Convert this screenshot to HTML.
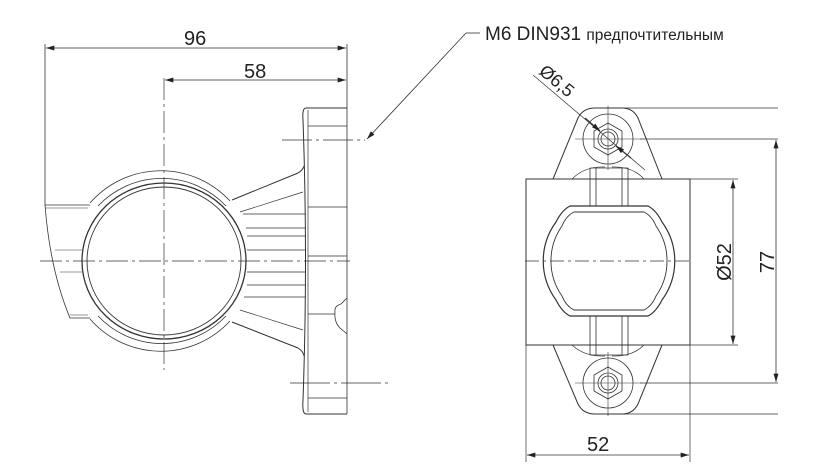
<!DOCTYPE html>
<html><head><meta charset="utf-8"><style>
html,body{margin:0;padding:0;background:#fff;}
svg{display:block;}
text{font-family:"Liberation Sans","DejaVu Sans",sans-serif;fill:#222;}
</style></head><body>
<svg width="821" height="472" viewBox="0 0 821 472" xmlns="http://www.w3.org/2000/svg">
<defs>
<marker id="a" viewBox="0 0 10 6" refX="10" refY="3" markerWidth="14" markerHeight="5" orient="auto-start-reverse" markerUnits="userSpaceOnUse"><path d="M0,0L10,3L0,6z" fill="#222"/></marker>
</defs>
<g stroke="#333" fill="none" stroke-width="1">
<line x1="45" y1="44" x2="45" y2="205" stroke-width="0.8"/>
<line x1="347" y1="44" x2="347" y2="414" stroke-width="0.8"/>
<line x1="46" y1="48" x2="346" y2="48" marker-start="url(#a)" marker-end="url(#a)" stroke-width="0.8"/>
<line x1="165" y1="80" x2="346" y2="80" marker-start="url(#a)" marker-end="url(#a)" stroke-width="0.8"/>
<line x1="164" y1="78" x2="164" y2="370" stroke-dasharray="22,4,3,4" stroke-width="0.7"/>
<line x1="40" y1="261" x2="350" y2="261" stroke-dasharray="22,4,3,4" stroke-width="0.7"/>
<line x1="282" y1="140" x2="365" y2="140" stroke-dasharray="30,4,3,4" stroke-width="0.7"/>
<line x1="290" y1="383" x2="390" y2="383" stroke-dasharray="40,4,3,4" stroke-width="0.7"/>
<path d="M347,108 L306,108 Q302,108 303,120 Q308,260 303,400 Q302,414 306,414 L347,414"/>
<line x1="308" y1="110" x2="308" y2="412" stroke-width="0.7"/>
<line x1="308" y1="126" x2="347" y2="126" stroke-width="0.7"/>
<line x1="308" y1="207" x2="347" y2="207" stroke-width="0.7"/>
<line x1="308" y1="256" x2="347" y2="256" stroke-width="0.7"/>
<line x1="308" y1="314" x2="335" y2="314" stroke-width="0.7"/>
<line x1="308" y1="398" x2="347" y2="398" stroke-width="0.7"/>
<path d="M347,298 L341,304 Q334,306 335,312 Q334,322 340,328 L347,334" stroke-width="0.8"/>
<path d="M232,200 L298,173 Q303,170 304,166" />
<path d="M232,322 L298,348 Q303,351 304,356" />
<line x1="240" y1="212" x2="303" y2="192" stroke-width="0.7"/>
<line x1="240" y1="310" x2="303" y2="330" stroke-width="0.7"/>
<line x1="243" y1="214" x2="306" y2="214" stroke-width="0.7"/>
<line x1="246" y1="228" x2="306" y2="228" stroke-width="0.7"/>
<line x1="247" y1="236" x2="306" y2="236" stroke-width="0.7"/>
<line x1="247" y1="250" x2="306" y2="250" stroke-width="0.7"/>
<line x1="247" y1="272" x2="306" y2="272" stroke-width="0.7"/>
<line x1="247" y1="285" x2="306" y2="285" stroke-width="0.7"/>
<line x1="244" y1="297" x2="306" y2="297" stroke-width="0.7"/>
<path d="M90,203 A94,94 0 0 1 230,201" stroke-width="0.8"/>
<path d="M98,206 A88,88 0 0 1 226,206" stroke-width="0.8"/>
<path d="M90,319 A94,94 0 0 0 230,321" stroke-width="0.8"/>
<path d="M98,316 A88,88 0 0 0 226,316" stroke-width="0.8"/>
<ellipse cx="164" cy="261" rx="82" ry="78" stroke-width="1.3"/>
<ellipse cx="164" cy="261" rx="77" ry="74" stroke-width="0.9"/>
<path d="M45,205 L90,205 M45,205 Q50,270 70,318 L90,318" stroke-width="0.8"/>
<line x1="45" y1="208" x2="88" y2="208" stroke-width="0.6"/>
<line x1="55" y1="250" x2="82" y2="250" stroke-width="0.6"/>
<line x1="60" y1="272" x2="82" y2="272" stroke-width="0.6"/>
<line x1="70" y1="315" x2="88" y2="315" stroke-width="0.6"/>

<polyline points="466,33 480,33" stroke-width="0.8"/>
<line x1="466" y1="33" x2="367" y2="139" marker-end="url(#a)" stroke-width="0.8"/>

<rect x="526" y="179" width="164" height="166" stroke-width="1"/>
<path d="M553,179 L578,118 Q583,108 595,108 L622,108 Q633,108 638,118 L662,179"/>
<path d="M553,345 L578,404 Q583,414 595,414 L622,414 Q633,414 638,404 L662,345"/>
<path d="M572,179 Q585,166 605,167" stroke-width="0.7"/>
<path d="M644,179 Q632,166 612,167" stroke-width="0.7"/>
<path d="M572,345 Q585,357 605,356" stroke-width="0.7"/>
<path d="M644,345 Q632,357 612,356" stroke-width="0.7"/>
<path d="M590,168 L590,206 M596,168 L596,206 M628,168 L628,206 M622,168 L622,206 M590,168 L628,168" stroke-width="0.8"/>
<path d="M590,316 L590,355 M596,316 L596,355 M628,316 L628,355 M622,316 L622,355 M590,355 L628,355" stroke-width="0.8"/>
<path d="M570,206 L648,206 Q656,210 662,222 A66,66 0 0 1 662,300 Q656,312 648,316 L570,316 Q562,312 556,300 A66,66 0 0 1 556,222 Q562,210 570,206 Z" stroke-width="1.2"/>
<path d="M574,212 L644,212 Q652,216 656,226 A61,61 0 0 1 656,296 Q652,306 644,310 L574,310 Q566,306 562,296 A61,61 0 0 1 562,226 Q566,216 574,212 Z" stroke-width="0.9"/>
<line x1="525" y1="261" x2="692" y2="261" stroke-dasharray="14,4,3,4" stroke-width="0.7"/>
<g stroke-width="0.8">
<circle cx="608" cy="139" r="25"/>
<polygon points="608,123 622,131 622,147 608,155 594,147 594,131"/>
<circle cx="608" cy="139" r="10"/>
<circle cx="608" cy="139" r="7"/>
<line x1="608" y1="106" x2="608" y2="170" stroke-width="0.6"/>
<line x1="575" y1="139" x2="642" y2="139" stroke-width="0.6"/>
<circle cx="608" cy="383" r="25"/>
<polygon points="608,367 622,375 622,391 608,399 594,391 594,375"/>
<circle cx="608" cy="383" r="10"/>
<circle cx="608" cy="383" r="7"/>
<line x1="608" y1="352" x2="608" y2="416" stroke-width="0.6"/>
<line x1="575" y1="383" x2="642" y2="383" stroke-width="0.6"/>
</g>
<line x1="533" y1="75" x2="645" y2="170" stroke-width="0.7"/>
<line x1="585" y1="118" x2="600" y2="131" marker-end="url(#a)" stroke-width="1.2"/>
<line x1="631" y1="158" x2="616" y2="146" marker-end="url(#a)" stroke-width="1.2"/>
<line x1="608" y1="108" x2="778" y2="108" stroke-width="0.7"/>
<line x1="640" y1="139" x2="778" y2="139" stroke-width="0.7"/>
<line x1="640" y1="383" x2="778" y2="383" stroke-width="0.7"/>
<line x1="608" y1="414" x2="778" y2="414" stroke-width="0.7"/>
<line x1="690" y1="179" x2="738" y2="179" stroke-width="0.7"/>
<line x1="690" y1="345" x2="738" y2="345" stroke-width="0.7"/>
<line x1="776" y1="140" x2="776" y2="382" marker-start="url(#a)" marker-end="url(#a)" stroke-width="0.8"/>
<line x1="733" y1="180" x2="733" y2="344" marker-start="url(#a)" marker-end="url(#a)" stroke-width="0.8"/>
<line x1="526" y1="345" x2="526" y2="462" stroke-width="0.7"/>
<line x1="690" y1="345" x2="690" y2="462" stroke-width="0.7"/>
<line x1="527" y1="455" x2="689" y2="455" marker-start="url(#a)" marker-end="url(#a)" stroke-width="0.8"/>
</g>
<text x="184" y="45" font-size="20">96</text>
<text x="244" y="78" font-size="20">58</text>
<text x="485" y="40" font-size="19">M6 DIN931 <tspan font-size="15.5">предпочтительным</tspan></text>
<text x="587" y="451" font-size="20">52</text>
<text transform="translate(774,262) rotate(-90)" font-size="20" text-anchor="middle">77</text>
<text transform="translate(731,262) rotate(-90)" font-size="20" text-anchor="middle">Ø52</text>
<text transform="translate(538,73) rotate(40)" font-size="18">Ø6,5</text>
</svg>
</body></html>
